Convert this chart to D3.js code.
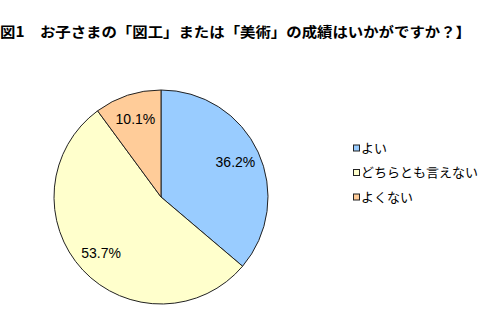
<!DOCTYPE html>
<html>
<head>
<meta charset="utf-8">
<script src="https://cdn.jsdelivr.net/npm/d3@7/dist/d3.min.js"></script>
<style>
  body { margin: 0; background: #fff; }
  svg { display: block; }
</style>
</head>
<body>
<div id="chart"></div>
<script>
var titleText = "図1　お子さまの「図工」または「美術」の成績はいかがですか？】";
var categories = ["よい", "どちらとも言えない", "よくない"];
var shares = [36.2, 53.7, 10.1];
var sliceColors = ["#99ccff", "#ffffcc", "#ffcc99"];

var width = 480, height = 320;
var cx = 161, cy = 197, radius = 107;

var svg = d3.select("#chart").append("svg")
    .attr("width", width)
    .attr("height", height);

// title
svg.append("text")
    .attr("x", 0)
    .attr("y", 37)
    .attr("textLength", 471)
    .attr("lengthAdjust", "spacingAndGlyphs")
    .style("font-family", "'Noto Sans CJK JP', sans-serif")
    .style("font-weight", "bold")
    .style("font-size", "14px")
    .attr("fill", "#000")
    .text(titleText);

var data = categories.map(function(c, i) {
  return {name: c, value: shares[i], color: sliceColors[i]};
});

var pie = d3.pie()
    .sort(null)
    .value(function(d) { return d.value; });

var arc = d3.arc().innerRadius(0).outerRadius(radius);
var labelArc = d3.arc().innerRadius(82).outerRadius(82);

var g = svg.append("g").attr("transform", "translate(" + cx + "," + cy + ")");

var slices = g.selectAll(".slice")
    .data(pie(data))
    .enter().append("g")
    .attr("class", "slice");

slices.append("path")
    .attr("d", arc)
    .attr("fill", function(d) { return d.data.color; })
    .attr("stroke", "#222")
    .attr("stroke-width", 1);

slices.append("text")
    .attr("transform", function(d) { return "translate(" + labelArc.centroid(d) + ")"; })
    .attr("text-anchor", "middle")
    .attr("dy", "0.35em")
    .style("font-family", "'Liberation Sans', Arial, sans-serif")
    .style("font-size", "14px")
    .attr("fill", "#000")
    .text(function(d) { return d.data.value.toFixed(1) + "%"; });

// legend
var legend = svg.append("g")
    .attr("transform", "translate(353,148)");

var rows = legend.selectAll(".row")
    .data(data)
    .enter().append("g")
    .attr("class", "row")
    .attr("transform", function(d, i) { return "translate(0," + (i * 24.5) + ")"; });

rows.append("rect")
    .attr("x", 0.5)
    .attr("y", -3)
    .attr("width", 6)
    .attr("height", 6)
    .attr("fill", function(d) { return d.color; })
    .attr("stroke", "#222")
    .attr("stroke-width", 1);

rows.append("text")
    .attr("x", 8)
    .attr("dy", "0.35em")
    .style("font-family", "'Noto Sans CJK JP', sans-serif")
    .style("font-size", "13px")
    .attr("fill", "#000")
    .text(function(d) { return d.name; });
</script>
</body>
</html>
